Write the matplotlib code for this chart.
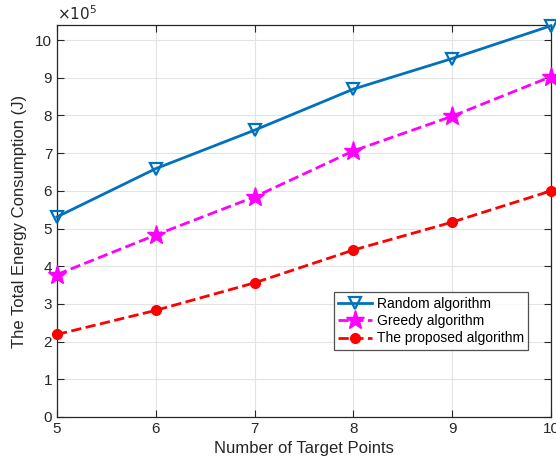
import matplotlib
matplotlib.use("Agg")
import matplotlib.pyplot as plt

plt.rcParams['font.family'] = ['Liberation Sans', 'DejaVu Sans']

x = [5, 6, 7, 8, 9, 10]
random_alg = [5.31, 6.59, 7.61, 8.70, 9.51, 10.38]
greedy_alg = [3.78, 4.83, 5.84, 7.06, 7.98, 9.03]
proposed_alg = [2.19, 2.83, 3.56, 4.43, 5.17, 6.00]
labels = ['Random algorithm', 'Greedy algorithm', 'The proposed algorithm']

fig = plt.figure(figsize=(5.56, 4.70), dpi=100)
ax = fig.add_axes([57/556, 53/470, 494/556, 392/470])

tc = '#262626'
ax.plot(x, random_alg, '-', color='#0072BD', lw=2, marker='v', ms=9,
        mfc='none', mew=1.6, label=labels[0], clip_on=False, zorder=3)
ax.plot(x, greedy_alg, '--', color='#FF00FF', lw=2, marker='*', ms=14,
        mfc='#FF00FF', mew=1, label=labels[1], clip_on=False, zorder=3)
ax.plot(x, proposed_alg, '--', color='#FF0000', lw=2, marker='o', ms=7,
        mfc='#FF0000', mew=1, label=labels[2], clip_on=False, zorder=3)

ax.set_xlim(5, 10)
ax.set_ylim(0, 10.4)
ax.set_xticks(x)
ax.set_yticks(range(0, 11))
ax.grid(True, color='#e3e3e3', lw=0.8)
ax.set_axisbelow(True)
ax.tick_params(direction='in', top=True, right=True, labelsize=11,
               colors=tc, length=5, width=0.8)
for s in ax.spines.values():
    s.set_color(tc)
    s.set_linewidth(0.9)

ax.set_xlabel('Number of Target Points', fontsize=12, color=tc, labelpad=4)
ax.set_ylabel('The Total Energy Consumption (J)', fontsize=12, color=tc, labelpad=6)
ax.text(0, 1.005, r'$\times 10^5$', transform=ax.transAxes, fontsize=11,
        color=tc, ha='left', va='bottom')

leg = ax.legend(loc='upper left', bbox_to_anchor=(0.561, 0.318), fontsize=10,
                frameon=True, fancybox=False, edgecolor=tc, borderpad=0.3,
                handlelength=2.4, labelspacing=0.25, handletextpad=0.4,
                borderaxespad=0)
leg.get_frame().set_linewidth(0.9)

fig.savefig('out.png', dpi=100)
